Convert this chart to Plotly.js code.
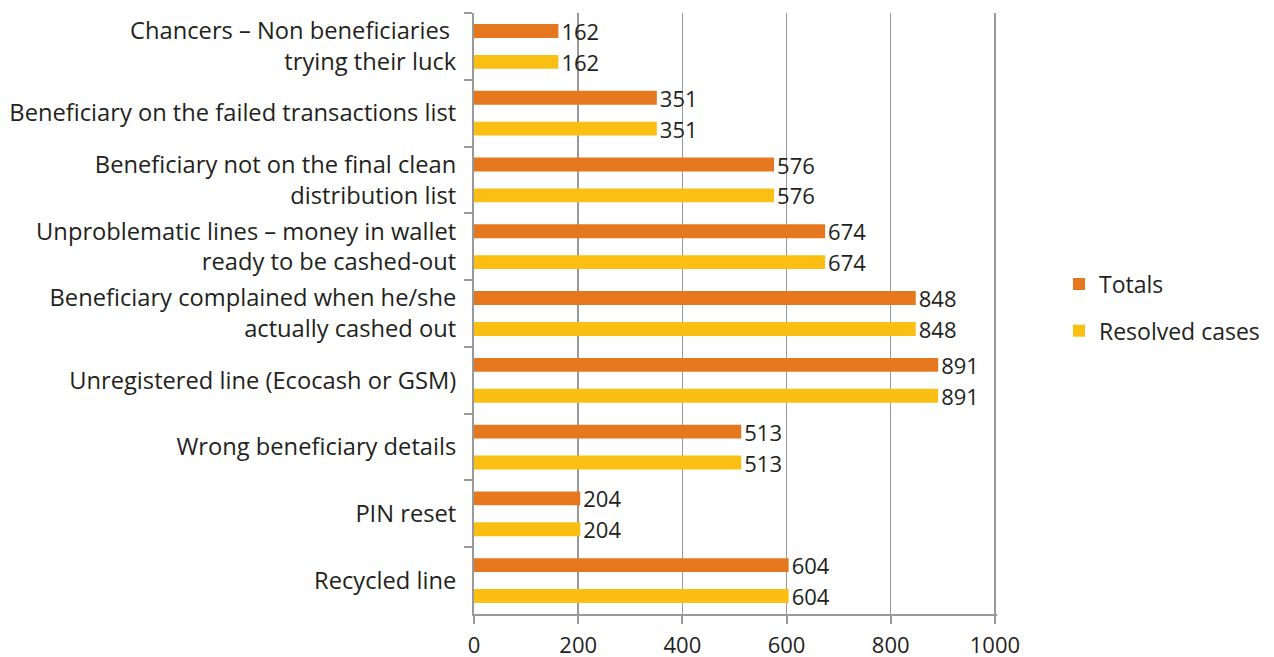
<!DOCTYPE html>
<html>
<head>
<meta charset="utf-8">
<script src="https://cdn.plot.ly/plotly-3.0.1.min.js"></script>
<style>html,body{margin:0;padding:0;background:#fff;}#chart{width:1274px;height:657px;}</style>
</head>
<body>
<div id="chart"></div>
<script>
const categories = [
  "Chancers – Non beneficiaries <br>trying their luck",
  "Beneficiary on the failed transactions list",
  "Beneficiary not on the final clean<br>distribution list",
  "Unproblematic lines – money in wallet<br>ready to be cashed-out",
  "Beneficiary complained when he/she<br>actually cashed out",
  "Unregistered line (Ecocash or GSM)",
  "Wrong beneficiary details",
  "PIN reset",
  "Recycled line"
];
const totals = [162, 351, 576, 674, 848, 891, 513, 204, 604];
const resolved = [162, 351, 576, 674, 848, 891, 513, 204, 604];
const xTicks = [0, 200, 400, 600, 800, 1000];

const fontFam = "'Open Sans', 'Noto Sans', sans-serif";
const textColor = "#231f20";

const traces = [
  {
    type: "bar", orientation: "h", name: "Totals",
    y: categories, x: totals,
    marker: {color: "#E5781F"},
    text: totals.map(String), textposition: "outside", cliponaxis: false,
    constraintext: "none",
    textfont: {family: fontFam, size: 22, color: textColor},
    legendgroup: "a"
  },
  {
    type: "bar", orientation: "h", name: "Resolved cases",
    y: categories, x: resolved,
    marker: {color: "#FBBF14"},
    text: resolved.map(String), textposition: "outside", cliponaxis: false,
    constraintext: "none",
    textfont: {family: fontFam, size: 22, color: textColor},
    legendgroup: "b"
  }
];

const layout = {
  width: 1274, height: 657,
  margin: {l: 474, r: 277, t: 13, b: 43, autoexpand: false},
  paper_bgcolor: "#fff", plot_bgcolor: "#fff",
  font: {family: fontFam, size: 22, color: textColor},
  barmode: "group", bargap: 0.075, bargroupgap: 0.55,
  showlegend: true,
  legend: {x: 1.1185, y: 0.51, xanchor: "left", yanchor: "middle",
           traceorder: "grouped", tracegroupgap: 14,
           font: {family: fontFam, size: 23, color: textColor}},
  xaxis: {
    range: [0, 1004], tickvals: xTicks, ticktext: xTicks.map(String),
    showgrid: true, gridcolor: "#999", gridwidth: 1.5,
    showline: true, linecolor: "#999", linewidth: 2,
    ticks: "outside", ticklen: 8, tickcolor: "#999", tickwidth: 2,
    zeroline: false, ticklabelstandoff: 3,
    tickfont: {family: fontFam, size: 22, color: textColor}
  },
  yaxis: {
    type: "category", autorange: "reversed",
    showline: true, linecolor: "#999", linewidth: 2,
    ticks: "outside", ticklen: 8, tickcolor: "#999", tickwidth: 2,
    tickson: "boundaries", showgrid: false, zeroline: false,
    ticklabelstandoff: 11,
    tickfont: {family: fontFam, size: 23.7, color: textColor}
  }
};

Plotly.newPlot("chart", traces, layout, {displayModeBar: false, staticPlot: true});
</script>
</body>
</html>
